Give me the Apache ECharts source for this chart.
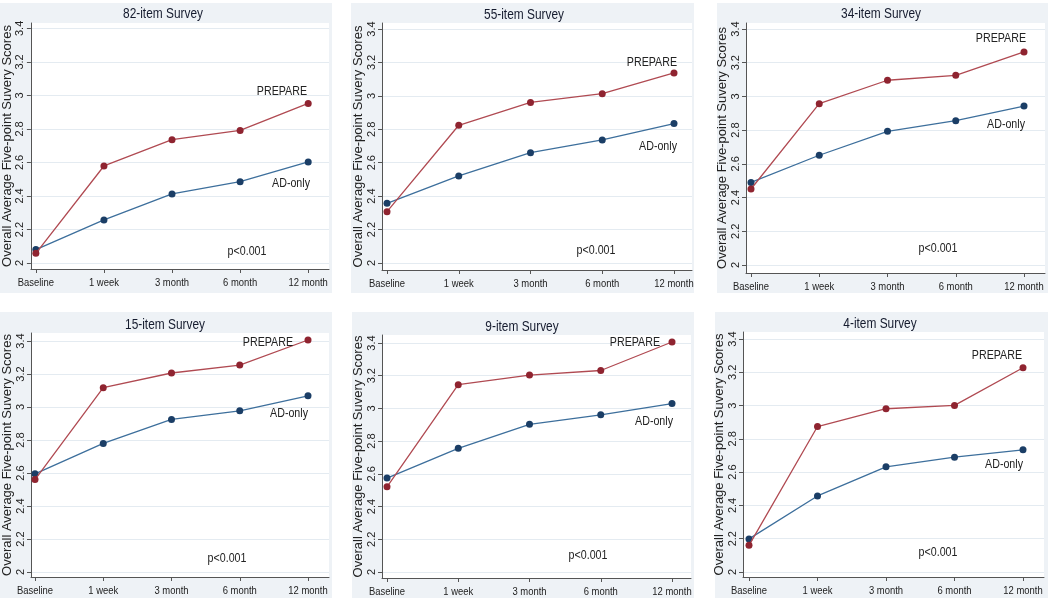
<!DOCTYPE html>
<html>
<head>
<meta charset="utf-8">
<script src="https://cdn.jsdelivr.net/npm/echarts@6/dist/echarts.min.js"></script>
<style>
html,body{margin:0;padding:0;background:#ffffff;}
#main{width:1050px;height:601px;}
</style>
</head>
<body>
<div id="main"></div>
<script>
// ---------- data ----------
const categories = ['Baseline', '1 week', '3 month', '6 month', '12 month'];
const yTicks = [2, 2.2, 2.4, 2.6, 2.8, 3, 3.2, 3.4];
const panelTitles = ['82-item Survey', '55-item Survey', '34-item Survey', '15-item Survey', '9-item Survey', '4-item Survey'];
const yAxisTitle = 'Overall Average Five-point Suvery Scores';
const seriesNames = ['PREPARE', 'AD-only'];
const pText = 'p<0.001';

const prepare82 = [2.058, 2.579, 2.736, 2.791, 2.952];
const adOnly82  = [2.080, 2.257, 2.412, 2.485, 2.603];
const prepare55 = [2.307, 2.824, 2.961, 3.013, 3.137];
const adOnly55  = [2.357, 2.521, 2.660, 2.736, 2.834];
const prepare34 = [2.451, 2.957, 3.096, 3.125, 3.264];
const adOnly34  = [2.490, 2.651, 2.793, 2.856, 2.943];
const prepare15 = [2.560, 3.117, 3.206, 3.254, 3.406];
const adOnly15  = [2.595, 2.779, 2.925, 2.977, 3.068];
const prepare9  = [2.521, 3.145, 3.204, 3.232, 3.406];
const adOnly9   = [2.574, 2.756, 2.903, 2.961, 3.030];
const prepare4  = [2.160, 2.874, 2.981, 3.001, 3.227];
const adOnly4   = [2.199, 2.457, 2.632, 2.690, 2.734];

const prepareData = [prepare82, prepare55, prepare34, prepare15, prepare9, prepare4];
const adOnlyData  = [adOnly82, adOnly55, adOnly34, adOnly15, adOnly9, adOnly4];

// ---------- layout (pixels) ----------
const layout = [
  {bg:[0,3,332,293],   left:28,  right:329,  top:23,  bottom:269, bx:33,  ex:308,  y2:263, y34:28.4, title:[163,14],
   prep:[307,91], ad:[310,183], p:[247,251]},
  {bg:[351,3,694,293], left:382, right:692,  top:23,  bottom:270, bx:387, ex:674,  y2:263, y34:29,   title:[524,15],
   prep:[677,62], ad:[677,146], p:[596,250]},
  {bg:[717,3,1048,293],left:746, right:1045, top:23,  bottom:273, bx:751, ex:1024, y2:265, y34:29,   title:[881,14],
   prep:[1026,38], ad:[1025,124], p:[938,248]},
  {bg:[0,312,332,598], left:31,  right:329,  top:333, bottom:577, bx:35,  ex:308,  y2:572, y34:341,  title:[165,325],
   prep:[293,342], ad:[308,413], p:[227,558]},
  {bg:[352,312,694,598],left:382,right:691,  top:335, bottom:578, bx:387, ex:672,  y2:572, y34:343,  title:[522,327],
   prep:[660,342], ad:[673,421], p:[588,555]},
  {bg:[715,312,1048,598],left:743,right:1044,top:332, bottom:577, bx:749, ex:1023, y2:572, y34:339,  title:[880,324],
   prep:[1022,355], ad:[1023,464], p:[938,552]}
];

const font = '"Liberation Sans", Arial, sans-serif';
const squeeze = 0.82;   // the reference's horizontal text is condensed
const red = '#b04a52', redDot = '#8f2430';
const blue = '#3d6f9c', blueDot = '#1b3e66';
const axisCol = '#555555';
const textCol = '#222222';

const grids = [], xAxes = [], yAxes = [], series = [], graphics = [];
const yMins = [];

function label(x, y, text, size, align, color) {
  return {type:'text', x:x, y:y, scaleX:squeeze, z:100,
    style:{text:text, fill:color || textCol, font:size + 'px ' + font, textAlign:align, textVerticalAlign:'middle'}};
}

layout.forEach((L, i) => {
  graphics.push({type:'rect', z:-10, shape:{x:L.bg[0], y:L.bg[1], width:L.bg[2]-L.bg[0], height:L.bg[3]-L.bg[1]},
    style:{fill:'#eef2f6'}});
  graphics.push(label(L.title[0], L.title[1], panelTitles[i], 14.5, 'center', '#151b2e'));
  graphics.push(label(L.prep[0], L.prep[1], seriesNames[0], 13, 'right'));
  graphics.push(label(L.ad[0], L.ad[1], seriesNames[1], 13, 'right'));
  graphics.push(label(L.p[0], L.p[1], pText, 13, 'center'));

  const xUnit = (L.ex - L.bx) / (categories.length - 1);
  const xmin = (L.left - L.bx) / xUnit;
  const xmax = (L.right - L.bx) / xUnit;
  const yUnit = (L.y2 - L.y34) / (yTicks[yTicks.length-1] - yTicks[0]);
  const ymin = yTicks[0] - (L.bottom - L.y2) / yUnit;
  const ymax = yTicks[yTicks.length-1] + (L.y34 - L.top) / yUnit;
  yMins.push(ymin);

  grids.push({left:L.left, top:L.top, width:L.right-L.left, height:L.bottom-L.top,
    show:true, backgroundColor:'#ffffff', borderWidth:0});
  xAxes.push({type:'value', gridIndex:i, min:xmin, max:xmax,
    axisLine:{show:true, onZero:false, lineStyle:{color:axisCol, width:1}},
    axisTick:{show:true, customValues:categories.map((c,k)=>k), length:4, lineStyle:{color:axisCol}},
    axisLabel:{show:false},
    splitLine:{show:false}});
  yAxes.push({type:'value', gridIndex:i, min:ymin, max:ymax,
    name:yAxisTitle, nameLocation:'middle', nameGap:14,
    nameTextStyle:{color:textCol, fontFamily:font, fontSize:13},
    axisLine:{show:true, onZero:false, lineStyle:{color:axisCol, width:1}},
    axisTick:{show:true, customValues:yTicks, length:4, lineStyle:{color:axisCol}},
    axisLabel:{customValues:yTicks, rotate:90, formatter:v=>String(+(+v).toFixed(1)),
      color:textCol, fontFamily:font, fontSize:11, margin:5},
    splitLine:{show:true, lineStyle:{color:'#e4ebf1', width:1}}});

  series.push({type:'line', name:seriesNames[1], xAxisIndex:i, yAxisIndex:i,
    data:adOnlyData[i].map((v,k)=>[k,v]), symbol:'circle', symbolSize:7,
    lineStyle:{color:blue, width:1.3}, itemStyle:{color:blueDot}, z:3, animation:false});
  series.push({type:'line', name:seriesNames[0], xAxisIndex:i, yAxisIndex:i,
    data:prepareData[i].map((v,k)=>[k,v]), symbol:'circle', symbolSize:7,
    lineStyle:{color:red, width:1.3}, itemStyle:{color:redDot}, z:4, animation:false});
});

const chart = echarts.init(document.getElementById('main'), null, {renderer:'canvas'});
chart.setOption({
  backgroundColor:'#ffffff',
  animation:false,
  grid:grids, xAxis:xAxes, yAxis:yAxes, series:series,
  graphic:graphics
});

// category labels, placed through the library's own x scale, condensed like the reference
const catLabels = [];
layout.forEach((L, i) => {
  categories.forEach((c, k) => {
    const pt = chart.convertToPixel({gridIndex:i}, [k, yMins[i]]);
    catLabels.push(label(pt[0], pt[1] + 14, c, 11.5, 'center'));
  });
});
chart.setOption({graphic: graphics.concat(catLabels)}, {replaceMerge:['graphic']});
</script>
</body>
</html>
